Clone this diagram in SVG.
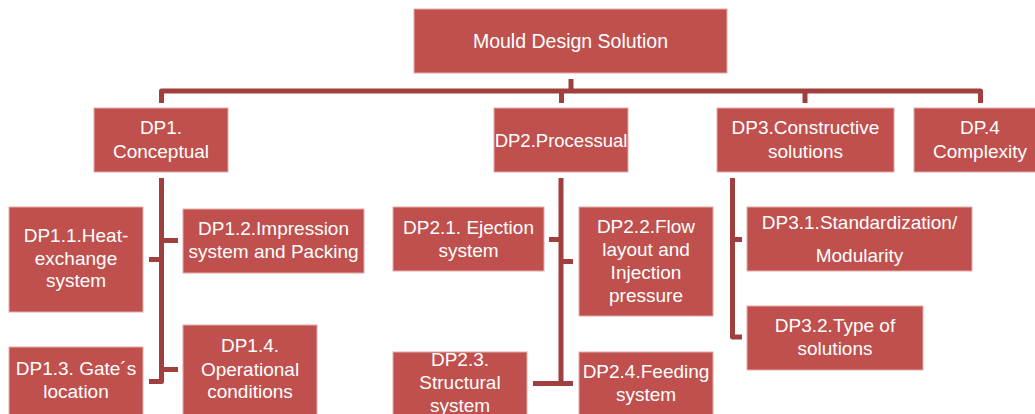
<svg xmlns="http://www.w3.org/2000/svg" width="1035" height="414" viewBox="0 0 1035 414">
  <style>
    .box { fill: #C0504D; stroke: #E3ABA9; stroke-width: 1; }
    .lbl { fill: #FFFFFF; font-family: "Liberation Sans", Arial, sans-serif; font-size: 19px; text-anchor: middle; }
    .conn { fill: none; stroke: #A03F3D; stroke-width: 5; stroke-linejoin: round; }
  </style>
  <rect width="1035" height="414" fill="#FFFFFF"/>

  <!-- connectors -->
  <g id="connectors">
    <path class="conn" d="M571,79 V91"/>
    <path class="conn" d="M161.5,103 V91 H980.5 V103"/>
    <path class="conn" d="M561.5,91 V103"/>
    <path class="conn" d="M805,91 V103"/>
    <!-- DP1 branch -->
    <path class="conn" d="M161.5,178 V381.5 H149"/>
    <path class="conn" d="M161.5,240.5 H178"/>
    <path class="conn" d="M161.5,259.5 H149"/>
    <path class="conn" d="M161.5,369.5 H178"/>
    <!-- DP2 branch -->
    <path class="conn" d="M561,178 V383.5"/>
    <path class="conn" d="M533,383.5 H573"/>
    <path class="conn" d="M549,239.5 H561"/>
    <path class="conn" d="M561,261.5 H573"/>
    <!-- DP3 branch -->
    <path class="conn" d="M732.5,178 V337 H742"/>
    <path class="conn" d="M732.5,239.5 H742"/>
  </g>

  <g id="root">
    <rect class="box" x="414" y="9" width="313" height="64"/>
    <text class="lbl" x="570.5" y="48" style="font-size:19.5px">Mould Design Solution</text>
  </g>

  <g id="dp1">
    <rect class="box" x="94" y="108" width="134" height="64"/>
    <text class="lbl" x="161" y="134">DP1.</text>
    <text class="lbl" x="161" y="158">Conceptual</text>
  </g>
  <g id="dp2">
    <rect class="box" x="494" y="108" width="134" height="64"/>
    <text class="lbl" x="561" y="147" style="font-size:18.5px">DP2.Processual</text>
  </g>
  <g id="dp3">
    <rect class="box" x="717" y="108" width="177" height="64"/>
    <text class="lbl" x="805.5" y="134">DP3.Constructive</text>
    <text class="lbl" x="805.5" y="158">solutions</text>
  </g>
  <g id="dp4">
    <rect class="box" x="914" y="108" width="132" height="64"/>
    <text class="lbl" x="980" y="134">DP.4</text>
    <text class="lbl" x="980" y="158">Complexity</text>
  </g>

  <g id="dp1-1">
    <rect class="box" x="9" y="207" width="134" height="105"/>
    <text class="lbl" x="76" y="242">DP1.1.Heat-</text>
    <text class="lbl" x="76" y="265">exchange</text>
    <text class="lbl" x="76" y="287">system</text>
  </g>
  <g id="dp1-2">
    <rect class="box" x="183" y="209" width="181" height="64"/>
    <text class="lbl" x="273.5" y="235">DP1.2.Impression</text>
    <text class="lbl" x="273.5" y="258">system and Packing</text>
  </g>
  <g id="dp1-3">
    <rect class="box" x="9" y="347" width="134" height="80"/>
    <text class="lbl" x="76" y="375">DP1.3. Gate´s</text>
    <text class="lbl" x="76" y="398">location</text>
  </g>
  <g id="dp1-4">
    <rect class="box" x="183" y="325" width="134" height="100"/>
    <text class="lbl" x="250" y="352">DP1.4.</text>
    <text class="lbl" x="250" y="376">Operational</text>
    <text class="lbl" x="250" y="398">conditions</text>
  </g>

  <g id="dp2-1">
    <rect class="box" x="393" y="207" width="151" height="64"/>
    <text class="lbl" x="468.5" y="234">DP2.1. Ejection</text>
    <text class="lbl" x="468.5" y="257">system</text>
  </g>
  <g id="dp2-2">
    <rect class="box" x="579" y="207" width="134" height="109"/>
    <text class="lbl" x="646" y="233">DP2.2.Flow</text>
    <text class="lbl" x="646" y="256">layout and</text>
    <text class="lbl" x="646" y="279">Injection</text>
    <text class="lbl" x="646" y="302">pressure</text>
  </g>
  <g id="dp2-3">
    <rect class="box" x="393" y="352" width="134" height="80"/>
    <text class="lbl" x="460" y="366">DP2.3.</text>
    <text class="lbl" x="460" y="389">Structural</text>
    <text class="lbl" x="460" y="412">system</text>
  </g>
  <g id="dp2-4">
    <rect class="box" x="579" y="352" width="134" height="80"/>
    <text class="lbl" x="646" y="378">DP2.4.Feeding</text>
    <text class="lbl" x="646" y="401">system</text>
  </g>

  <g id="dp3-1">
    <rect class="box" x="747" y="207" width="225" height="64"/>
    <text class="lbl" x="859.5" y="229">DP3.1.Standardization/</text>
    <text class="lbl" x="859.5" y="262">Modularity</text>
  </g>
  <g id="dp3-2">
    <rect class="box" x="747" y="306" width="176" height="64"/>
    <text class="lbl" x="835" y="332">DP3.2.Type of</text>
    <text class="lbl" x="835" y="355">solutions</text>
  </g>
</svg>
